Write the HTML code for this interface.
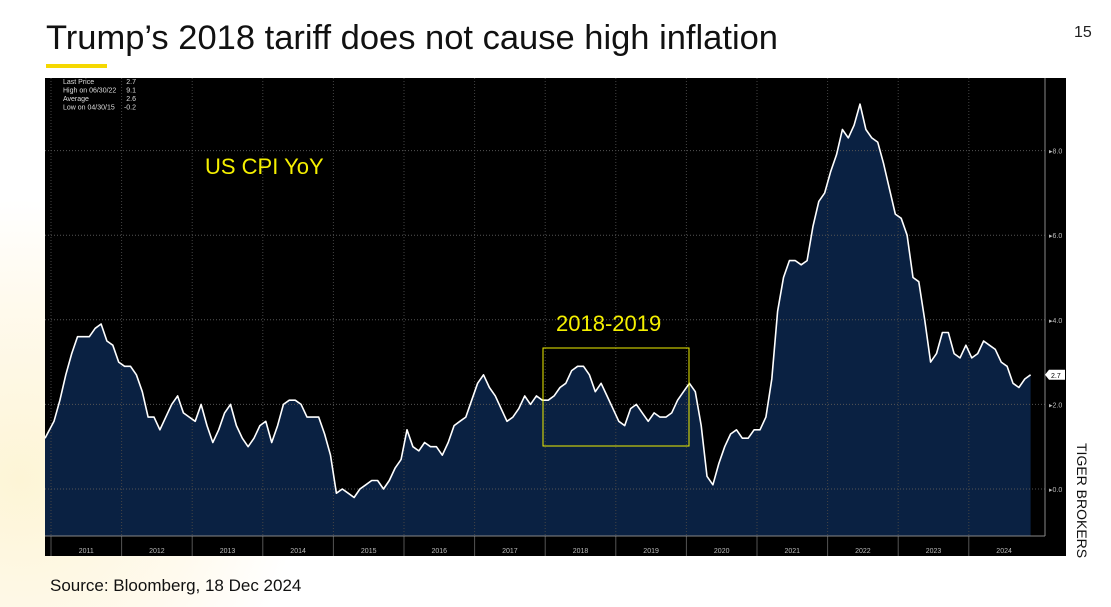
<!DOCTYPE html>
<html style="overflow:hidden;width:1111px;height:607px"><head><meta charset="utf-8"><style>
body{margin:0;width:1111px;height:607px;overflow:hidden;font-family:"Liberation Sans",sans-serif;position:relative;
background:radial-gradient(circle 280px at 20px 480px,#fdf5d6 0%,#fffaee 65%,#ffffff 100%)}
</style></head><body>
<div style="position:absolute;left:46px;top:19px;font-size:34.5px;color:#111;white-space:nowrap">Trump’s 2018 tariff does not cause high inflation</div>
<div style="position:absolute;left:46px;top:64px;width:61px;height:4px;background:#f5d800"></div>
<div style="position:absolute;left:1074px;top:24px;font-size:16px;color:#222">15</div>
<div style="position:absolute;left:1074px;top:443px;width:16px;height:117px;writing-mode:vertical-rl;font-size:14px;line-height:16px;color:#111;white-space:nowrap;overflow:hidden">TIGER BROKERS</div>
<div style="position:absolute;left:50px;top:576px;font-size:17px;line-height:20px;color:#111">Source: Bloomberg, 18 Dec 2024</div>
<svg id="chart" width="1111" height="607" style="position:absolute;left:0;top:0;display:block" xmlns="http://www.w3.org/2000/svg"></svg>
<script>
const years=["2011","2012","2013","2014","2015","2016","2017","2018","2019","2020","2021","2022","2023","2024"];
const yTicks=[0,2,4,6,8];
const startValue=1.2;
const cpi=[1.6,2.1,2.7,3.2,3.6,3.6,3.6,3.8,3.9,3.5,3.4,3.0,
2.9,2.9,2.7,2.3,1.7,1.7,1.4,1.7,2.0,2.2,1.8,1.7,
1.6,2.0,1.5,1.1,1.4,1.8,2.0,1.5,1.2,1.0,1.2,1.5,
1.6,1.1,1.5,2.0,2.1,2.1,2.0,1.7,1.7,1.7,1.3,0.8,
-0.1,0.0,-0.1,-0.2,0.0,0.1,0.2,0.2,0.0,0.2,0.5,0.7,
1.4,1.0,0.9,1.1,1.0,1.0,0.8,1.1,1.5,1.6,1.7,2.1,
2.5,2.7,2.4,2.2,1.9,1.6,1.7,1.9,2.2,2.0,2.2,2.1,
2.1,2.2,2.4,2.5,2.8,2.9,2.9,2.7,2.3,2.5,2.2,1.9,
1.6,1.5,1.9,2.0,1.8,1.6,1.8,1.7,1.7,1.8,2.1,2.3,
2.5,2.3,1.5,0.3,0.1,0.6,1.0,1.3,1.4,1.2,1.2,1.4,
1.4,1.7,2.6,4.2,5.0,5.4,5.4,5.3,5.4,6.2,6.8,7.0,
7.5,7.9,8.5,8.3,8.6,9.1,8.5,8.3,8.2,7.7,7.1,6.5,
6.4,6.0,5.0,4.9,4.0,3.0,3.2,3.7,3.7,3.2,3.1,3.4,
3.1,3.2,3.5,3.4,3.3,3.0,2.9,2.5,2.4,2.6,2.7];
const stats=[["Last Price","2.7"],["High on 06/30/22","9.1"],["Average","2.6"],["Low on 04/30/15","-0.2"]];

const NS="http://www.w3.org/2000/svg",svg=document.getElementById('chart');
const yearW=70.6,x0=51,plotL=45,plotR=1045,plotT=78,plotB=536;
const X=i=>x0+3+i*yearW/12;
const Y=v=>489-v*42.3;
function mk(t,a,p){const e=document.createElementNS(NS,t);for(const k in a)e.setAttribute(k,a[k]);(p||svg).appendChild(e);return e;}
let e;
e=mk('rect',{x:45,y:78,width:1021,height:478,fill:'#000'});


let pts=[[plotL,Y(startValue)]];
cpi.forEach((v,i)=>pts.push([X(i),Y(v)]));
const last=pts[pts.length-1];
let d='M'+pts.map(p=>p[0].toFixed(1)+','+p[1].toFixed(1)).join('L');
e=mk('path',{d:d+`L${last[0].toFixed(1)},${plotB}L${plotL},${plotB}Z`,fill:'#0a2142'});


yTicks.forEach(v=>{
 e=mk('line',{x1:plotL,x2:plotR,y1:Y(v),y2:Y(v),stroke:'#555','stroke-dasharray':'1,2','stroke-width':1});
 
 
 e=mk('text',{x:plotR+4,y:Y(v)+3,fill:'#bbb','font-size':7});
 e.textContent='\u25B8'+v.toFixed(1);
 
 
});
years.forEach((yr,i)=>{
 const xs=x0+i*yearW;
 e=mk('line',{x1:xs,x2:xs,y1:plotT,y2:plotB,stroke:'#444','stroke-dasharray':'1,2'});
 
 
 e=mk('line',{x1:xs,x2:xs,y1:plotB,y2:556,stroke:'#555'});
 
 
 e=mk('text',{x:xs+yearW/2,y:553,fill:'#bbb','font-size':7,'text-anchor':'middle'});
 e.textContent=yr;
 
 
});
e=mk('line',{x1:plotL,x2:plotR,y1:plotB,y2:plotB,stroke:'#888'});


e=mk('line',{x1:plotR,x2:plotR,y1:plotT,y2:plotB,stroke:'#888'});


e=mk('path',{d:d,fill:'none',stroke:'#fff','stroke-width':1.6,'stroke-linejoin':'round'});


const lv=cpi[cpi.length-1];
e=mk('path',{d:`M${plotR},${Y(lv)}l4,-5h16v10h-16z`,fill:'#fff'});


e=mk('text',{x:plotR+6,y:Y(lv)+3,fill:'#000','font-size':7});
e.textContent=lv.toFixed(1);


stats.forEach((s,i)=>{
 const yy=80+i*8.5;
 e=mk('text',{x:63,y:yy+4,fill:'#ddd','font-size':7});
 e.textContent=s[0];
 
 
 e=mk('text',{x:136,y:yy+4,fill:'#ddd','font-size':7,'text-anchor':'end'});
 e.textContent=s[1];
 
 
});
e=mk('rect',{x:543,y:348,width:146,height:98,fill:'none',stroke:'#f0f000','stroke-width':1});


e=mk('text',{x:205,y:174,fill:'#f5f000','font-size':22});
e.textContent='US CPI YoY';


e=mk('text',{x:556,y:331,fill:'#f5f000','font-size':22});
e.textContent='2018-2019';


</script>
</body></html>
